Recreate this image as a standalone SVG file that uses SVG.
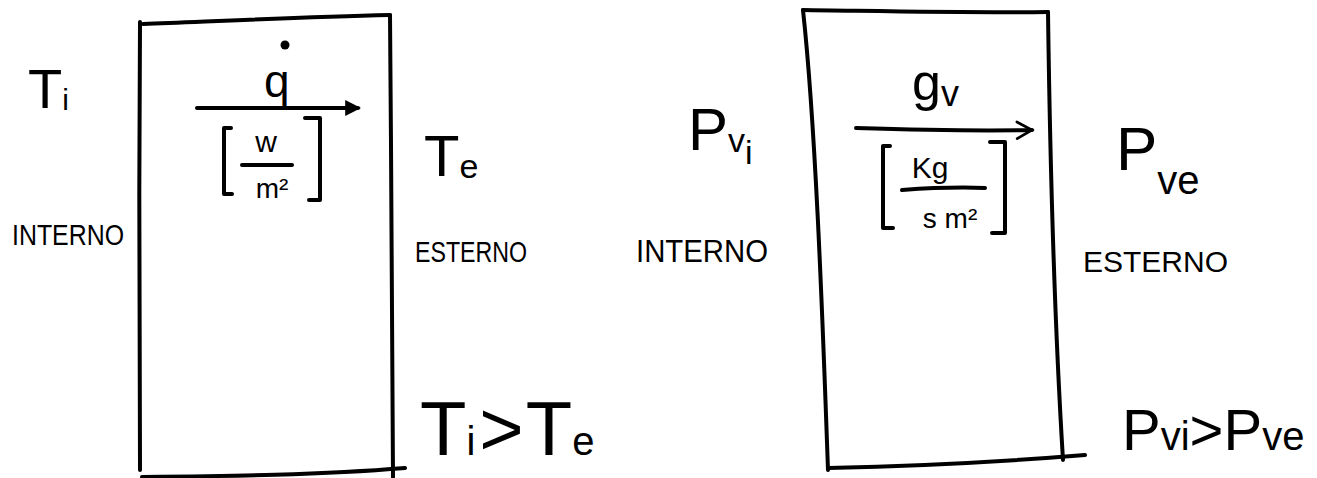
<svg xmlns="http://www.w3.org/2000/svg" width="1317" height="478" viewBox="0 0 1317 478">
<style>
.s{fill:none;stroke:#000;stroke-width:4;stroke-linecap:round;stroke-linejoin:round}
.t{font-family:"Liberation Sans",Arial,sans-serif;fill:#000}
</style>
<defs>
<marker id="hd" viewBox="0 0 10 10" refX="8" refY="5" markerWidth="4" markerHeight="4" orient="auto"><path d="M0,0 L10,5 L0,10 Z" fill="#000"/></marker>
<marker id="ho" viewBox="0 0 12 12" refX="10" refY="6" markerWidth="5" markerHeight="5" orient="auto"><path d="M1,1 L10,6 L1,11" fill="none" stroke="#000" stroke-width="1.6" stroke-linecap="round"/></marker>
</defs>
<rect width="1317" height="478" fill="#fff"/>

<g id="wall-heat">
<path class="s" d="M143,24 C220,21 300,17 390,15"/>
<path class="s" d="M140,22 C139,170 139,330 140,470"/>
<path class="s" d="M390,15 C391,170 393,330 393,477"/>
<path class="s" d="M142,477 C230,476 320,475 405,468"/>
</g>

<g id="wall-vapour">
<path class="s" d="M803,10 C880,11 970,13 1048,12"/>
<path class="s" d="M803,10 C815,120 822,300 828,470"/>
<path class="s" d="M1048,12 C1050,160 1055,330 1063,460"/>
<path class="s" d="M828,468 C920,466 1000,462 1085,455"/>
</g>

<g id="connectors">
<path class="s" d="M197,108 L358,108" marker-end="url(#hd)"/>
<path class="s" d="M856,128 C920,130 980,131 1032,130" marker-end="url(#ho)"/>
</g>

<g id="heat-flux">
<text class="t" x="264" y="97" font-size="46">q</text>
<circle cx="285" cy="45" r="4.5" fill="#000"/>
<path class="s" d="M231,128 L224,128 L224,194 L232,194"/>
<path class="s" d="M305,118 L320,118 L320,200 L309,200"/>
<text class="t" x="266" y="152" font-size="30" text-anchor="middle">w</text>
<path class="s" d="M242,165 L292,165"/>
<text class="t" x="272" y="198" font-size="28" text-anchor="middle">m²</text>
</g>

<g id="vapour-flux">
<text class="t" x="912" y="100" font-size="52">g<tspan font-size="36" dy="6">v</tspan></text>
<path class="s" d="M890,146 L883,146 L883,228 L893,228"/>
<path class="s" d="M990,142 L1005,142 L1005,233 L992,233"/>
<text class="t" x="930" y="178" font-size="30" text-anchor="middle">Kg</text>
<path class="s" d="M902,190 C930,188 960,187 985,188"/>
<text class="t" x="950" y="228" font-size="28" text-anchor="middle">s m²</text>
</g>

<g id="labels-heat">
<text class="t" x="28" y="108" font-size="56">T<tspan font-size="30" dy="2">i</tspan></text>
<text class="t" x="424" y="176" font-size="58">T<tspan font-size="34" dy="2">e</tspan></text>
<text class="t" x="12" y="245" font-size="30" textLength="112" lengthAdjust="spacingAndGlyphs">INTERNO</text>
<text class="t" x="415" y="262" font-size="30" textLength="112" lengthAdjust="spacingAndGlyphs">ESTERNO</text>
<text class="t" x="420" y="455" font-size="76">T<tspan font-size="40">i</tspan><tspan dx="4">&gt;</tspan><tspan dx="2">T</tspan><tspan font-size="40">e</tspan></text>
</g>

<g id="labels-vapour">
<text class="t" x="688" y="150" font-size="60">P<tspan font-size="34" dy="2">v</tspan><tspan font-size="34" dy="12">i</tspan></text>
<text class="t" x="1116" y="170" font-size="62">P<tspan font-size="40" dy="24">ve</tspan></text>
<text class="t" x="636" y="262" font-size="32" textLength="132" lengthAdjust="spacingAndGlyphs">INTERNO</text>
<text class="t" x="1083" y="272" font-size="30" textLength="145" lengthAdjust="spacingAndGlyphs">ESTERNO</text>
<text class="t" x="1122" y="450" font-size="58">P<tspan font-size="40">vi</tspan>&gt;P<tspan font-size="40">ve</tspan></text>
</g>
</svg>
